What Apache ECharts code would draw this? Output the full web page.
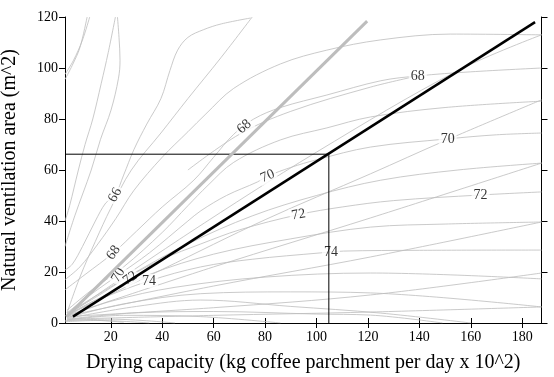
<!DOCTYPE html>
<html>
<head>
<meta charset="utf-8">
<script src="https://cdn.jsdelivr.net/npm/echarts@6/dist/echarts.min.js"></script>
<style>
  html, body { margin: 0; padding: 0; background: #fff; }
  #chart { width: 554px; height: 377px; }
</style>
</head>
<body>
<div id="chart"></div>
<script>
// axis ticks
const xTicks = [20, 40, 60, 80, 100, 120, 140, 160, 180];
const yTicks = [0, 20, 40, 60, 80, 100, 120];

// labelled contours
const c66 = [[2.2,20.8],[5,23],[9,30],[14,40],[18,47],[21.7,50.2],[25,58],[29,68],[34,78],[39.5,88],[43,99],[46,107],[50,112],[56,115],[63,117.3],[74.4,119.6]];
const c68 = [[2.2,13],[10,19],[21.1,27.6],[30,36],[40,45.5],[52.3,56],[60,65],[67.8,74],[75.6,80],[86,84.5],[104,89.4],[125,95],[139.4,96.9],[160,98.5],[187.5,100]];
const c70 = [[3,4],[12,11],[22.9,18.8],[35,27.5],[50,40],[55,44],[65,50],[77,55.3],[81,57.6],[90,61],[100,64],[121,69],[151,72.2],[170,73.8],[187.5,74.5]];
const c72 = [[3,3.5],[14,10],[26.7,18],[40,25],[55,31],[70,36.5],[93,42.5],[110,45.5],[130,48],[163.8,50.2],[187.5,51.4]];
const c74 = [[3,3],[15,9],[34.9,16.5],[55,22],[75,25],[101.6,27.5],[110.5,28.2],[140,28.5],[187.5,28.6]];

// unlabelled contours
const c67 = [[2.2,17],[8,22],[15,31],[22,41],[29,52],[40,65],[50,75],[57,82],[67.8,92],[86,101.6],[104,107],[124.8,111],[152,113.3],[187.5,113]];
const c68b = [[50,60],[70,74],[90,83],[121,92.5],[139.4,96.9]];
const c69 = [[3,5],[12,12.5],[25,22],[40,35.5],[50,46],[57.8,54],[67.8,63],[86,71.8],[104,76.5],[121,80.8],[150,84.5],[187.5,87]];
const c71 = [[3,3.8],[14,10.5],[28,19],[50,31],[75,42],[100,50],[125,56],[155,60],[187.5,62.7]];
const c73 = [[3,3.2],[15,9.5],[35,19],[60,27],[90,33],[121,37.6],[150,38.8],[187.5,39.6]];
const h6 = [[3,2.5],[20,8.5],[45,14],[80,18],[121,19.6],[187.5,17.3]];
const h1 = [[3,2],[25,7.5],[55,11.5],[90,12.2],[121,11.8],[187.5,6.3]];
const h4 = [[3,1.8],[30,6.5],[55,9],[90,6.5],[124.8,3.9],[160,0]];
const h3 = [[3,1.5],[30,4],[60,4.5],[100,3.5],[121,3.1],[149,0]];
const h2 = [[3,1.2],[25,3],[55,2.5],[86,0]];
const h5 = [[3,1.5],[60,3],[121,4.3],[187.5,6.3]];
const h7 = [[3,1],[20,1.5],[45,0]];
const h8 = [[2.2,0.5],[15,1],[35,0]];
const h9 = [[2.2,1],[10,1.2],[25,0.3]];

// steep curves in the upper left
const u1a = [[2.2,95.5],[5,101],[8,108],[10.8,120]];
const u1b = [[2.2,97.5],[5.5,103],[9,111],[11.8,120]];
const u2 = [[2.2,40],[4,46],[7.4,60],[10,70],[13,80],[16.3,94],[19,106],[21.8,120]];
const u3 = [[2.2,30],[6,42],[12.4,60],[16,72],[20.1,83.5],[23,96],[23.6,103],[23.2,112],[22.6,120]];
const s1 = [[3,4],[8,18],[14,32],[20,45],[28,60],[39.5,74.5],[50,88],[62.8,104],[75,120]];

// diagonal family from the origin
const dB = [[3,3],[50,35],[100,67],[155,99],[187.5,113]];
const dC = [[3,3],[40,21],[80,40.5],[121,58.5],[150,71.5],[187.5,87.5]];
const dD = [[3,3],[60,22],[121,41.2],[187.5,62.7]];
const dE = [[3,2.8],[60,14.5],[121,25.9],[187.5,39.6]];
const dF = [[3,2.5],[60,6],[121,11],[187.5,19.6]];

// contour labels: x, y, text
const contourLabels = [
  [21.7, 50.2, '66'], [21.1, 27.6, '68'], [71.9, 77, '68'], [139.4, 96.9, '68'],
  [22.9, 18.8, '70'], [81, 57.6, '70'], [151, 72.2, '70'],
  [27.5, 17.6, '72'], [93, 42.5, '72'], [163.8, 50.2, '72'],
  [34.9, 16.5, '74'], [105.6, 27.6, '74']
];
const labelRotate = [62, 55, 40, 0, 60, 22, 0, 35, 10, 0, 0, 0];

// main lines
const blackLine = [[5.3, 2.5], [185, 118]];
const grayLine = [[2.7, 2.4], [119.7, 118.4]];
const designX = 104.8;
const designY = 66.2;

const thinCurves = [c66, c67, c68, c68b, c69, c70, c71, c72, c73, c74,
  h6, h1, h4, h3, h2, h5, h7, h8, h9, u1a, u1b, u2, u3, s1, dB, dC, dD, dE, dF];

const serif = 'Liberation Serif, Times New Roman, serif';
const chart = echarts.init(document.getElementById('chart'));

const series = thinCurves.map((pts) => ({
  type: 'line',
  data: pts,
  smooth: 0.35,
  showSymbol: false,
  silent: true,
  z: 1,
  lineStyle: { color: '#bdbdbd', width: 0.8 },
}));

series.push({
  type: 'scatter',
  z: 2,
  symbolSize: 0,
  silent: true,
  data: contourLabels.map((l, i) => ({
    value: [l[0], l[1]],
    label: { rotate: labelRotate[i] },
    name: l[2],
  })),
  label: {
    show: true,
    position: 'inside',
    formatter: (p) => p.name,
    fontFamily: serif,
    fontSize: 14,
    color: '#000',
    backgroundColor: '#fff',
    padding: [0, 2],
  },
});

series.push({
  type: 'line',
  data: [[2.2, designY], [designX, designY], [designX, 0]],
  showSymbol: false,
  silent: true,
  z: 3,
  lineStyle: { color: '#000', width: 1 },
});

series.push({
  type: 'line',
  data: grayLine,
  showSymbol: false,
  silent: true,
  z: 4,
  lineStyle: { color: '#bdbdbd', width: 3 },
});

series.push({
  type: 'line',
  data: blackLine,
  showSymbol: false,
  silent: true,
  z: 5,
  lineStyle: { color: '#000', width: 2.5 },
});

const xBase = {
  type: 'value',
  min: 2.2,
  max: 187.5,
  axisLine: { lineStyle: { color: '#000', width: 1 } },
  axisTick: { inside: false, length: 5, customValues: xTicks, lineStyle: { color: '#000' } },
  splitLine: { show: false },
};
const yBase = {
  type: 'value',
  min: 0,
  max: 120,
  interval: 20,
  axisLine: { show: true, lineStyle: { color: '#000', width: 1 } },
  axisTick: { show: true, inside: false, length: 6, lineStyle: { color: '#000' } },
  splitLine: { show: false },
};

chart.setOption({
  animation: false,
  grid: { left: 65, right: 12.5, top: 17, bottom: 54, outerBoundsMode: 'none' },
  xAxis: [
    Object.assign({}, xBase, {
      position: 'bottom',
      name: 'Drying capacity (kg coffee parchment per day x 10^2)',
      nameLocation: 'middle',
      nameGap: 30,
      nameTextStyle: { fontFamily: serif, fontSize: 20, color: '#000' },
      axisLabel: { customValues: xTicks, fontFamily: serif, fontSize: 14, color: '#000', margin: 7 },
    }),
    Object.assign({}, xBase, { position: 'top', axisLabel: { show: false } }),
  ],
  yAxis: [
    Object.assign({}, yBase, {
      position: 'left',
      name: 'Natural ventilation area (m^2)',
      nameLocation: 'middle',
      nameGap: 45,
      nameTextStyle: { fontFamily: serif, fontSize: 20, color: '#000' },
      axisLabel: { fontFamily: serif, fontSize: 14, color: '#000', margin: 7 },
    }),
    Object.assign({}, yBase, { position: 'right', axisLabel: { show: false } }),
  ],
  series: series,
});
</script>
</body>
</html>
